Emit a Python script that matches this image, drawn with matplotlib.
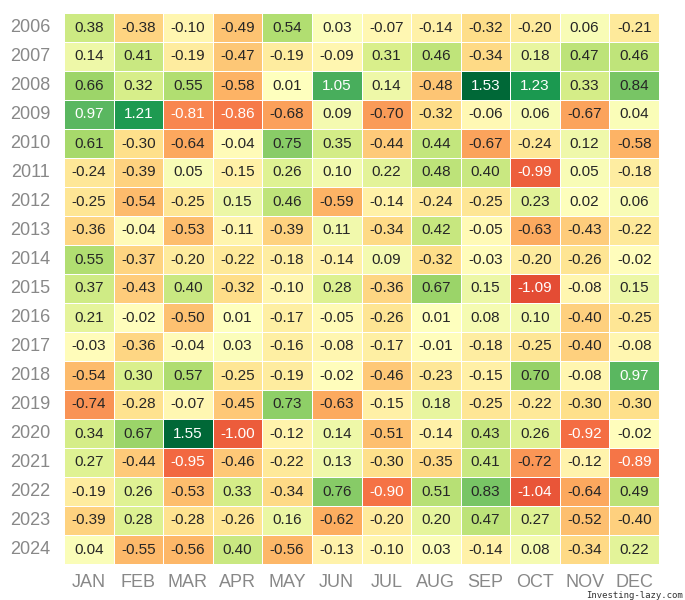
import numpy as np
import pandas as pd
import matplotlib
matplotlib.use("Agg")
import matplotlib.pyplot as plt
import seaborn as sns

# DATA

years = [str(y) for y in range(2006, 2025)]
months = ["JAN", "FEB", "MAR", "APR", "MAY", "JUN",
          "JUL", "AUG", "SEP", "OCT", "NOV", "DEC"]

returns = [
    [0.38, -0.38, -0.10, -0.49, 0.54, 0.03, -0.07, -0.14, -0.32, -0.20, 0.06, -0.21],
    [0.14, 0.41, -0.19, -0.47, -0.19, -0.09, 0.31, 0.46, -0.34, 0.18, 0.47, 0.46],
    [0.66, 0.32, 0.55, -0.58, 0.01, 1.05, 0.14, -0.48, 1.53, 1.23, 0.33, 0.84],
    [0.97, 1.21, -0.81, -0.86, -0.68, 0.09, -0.70, -0.32, -0.06, 0.06, -0.67, 0.04],
    [0.61, -0.30, -0.64, -0.04, 0.75, 0.35, -0.44, 0.44, -0.67, -0.24, 0.12, -0.58],
    [-0.24, -0.39, 0.05, -0.15, 0.26, 0.10, 0.22, 0.48, 0.40, -0.99, 0.05, -0.18],
    [-0.25, -0.54, -0.25, 0.15, 0.46, -0.59, -0.14, -0.24, -0.25, 0.23, 0.02, 0.06],
    [-0.36, -0.04, -0.53, -0.11, -0.39, 0.11, -0.34, 0.42, -0.05, -0.63, -0.43, -0.22],
    [0.55, -0.37, -0.20, -0.22, -0.18, -0.14, 0.09, -0.32, -0.03, -0.20, -0.26, -0.02],
    [0.37, -0.43, 0.40, -0.32, -0.10, 0.28, -0.36, 0.67, 0.15, -1.09, -0.08, 0.15],
    [0.21, -0.02, -0.50, 0.01, -0.17, -0.05, -0.26, 0.01, 0.08, 0.10, -0.40, -0.25],
    [-0.03, -0.36, -0.04, 0.03, -0.16, -0.08, -0.17, -0.01, -0.18, -0.25, -0.40, -0.08],
    [-0.54, 0.30, 0.57, -0.25, -0.19, -0.02, -0.46, -0.23, -0.15, 0.70, -0.08, 0.97],
    [-0.74, -0.28, -0.07, -0.45, 0.73, -0.63, -0.15, 0.18, -0.25, -0.22, -0.30, -0.30],
    [0.34, 0.67, 1.55, -1.00, -0.12, 0.14, -0.51, -0.14, 0.43, 0.26, -0.92, -0.02],
    [0.27, -0.44, -0.95, -0.46, -0.22, 0.13, -0.30, -0.35, 0.41, -0.72, -0.12, -0.89],
    [-0.19, 0.26, -0.53, 0.33, -0.34, 0.76, -0.90, 0.51, 0.83, -1.04, -0.64, 0.49],
    [-0.39, 0.28, -0.28, -0.26, 0.16, -0.62, -0.20, 0.20, 0.47, 0.27, -0.52, -0.40],
    [0.04, -0.55, -0.56, 0.40, -0.56, -0.13, -0.10, 0.03, -0.14, 0.08, -0.34, 0.22],
]

df = pd.DataFrame(returns, index=years, columns=months)

#%%

plt.rcParams['font.family'] = ['Liberation Sans', 'DejaVu Sans']

fig = plt.figure(figsize=(6.85, 6.0), dpi=100)
ax = fig.add_axes([64/685, 1 - 564/600, (659 - 64)/685, (564 - 13)/600])

sns.heatmap(df, ax=ax, cmap='RdYlGn', center=0, annot=True, fmt='.2f',
            annot_kws={'fontsize': 11}, linewidths=0.6, linecolor='white',
            cbar=False)

# Tick styling
ax.tick_params(axis='both', length=0, colors='#888888', labelsize=13)
ax.tick_params(axis='y', pad=10, rotation=0)
ax.tick_params(axis='x', pad=7)
ax.set_xlabel('')
ax.set_ylabel('')

# Watermark (sits just under the NOV/DEC labels)
fig.text(0.997, 0.2/600, 'Investing-lazy.com', ha='right', va='bottom',
         fontsize=6.5, family='DejaVu Sans Mono', color='#333333')

fig.savefig('out.png', dpi=100, facecolor='white')
